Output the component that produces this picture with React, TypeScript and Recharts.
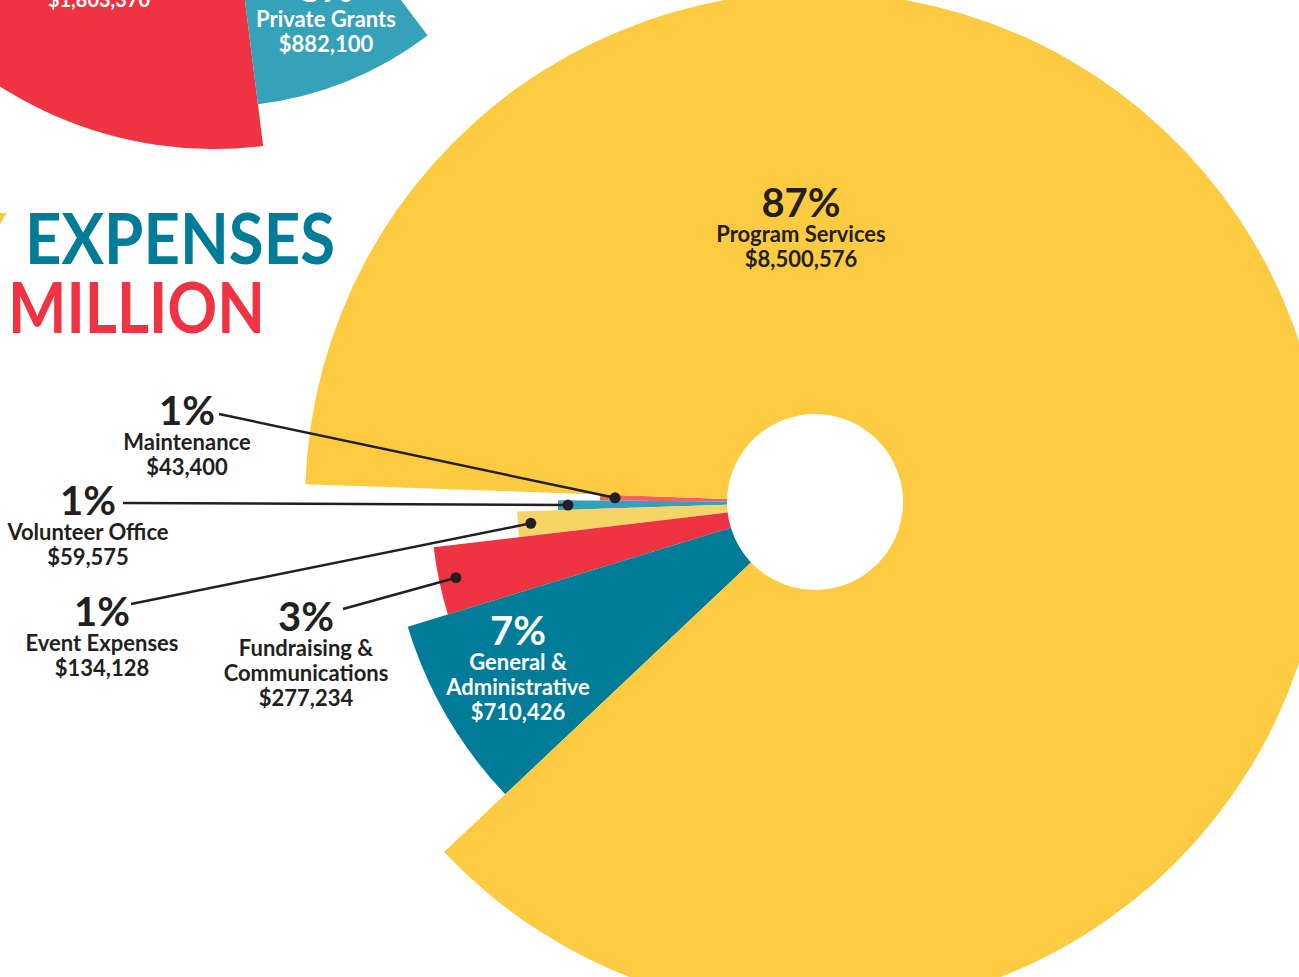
import { PieChart, Pie, Cell } from "recharts";

// expense breakdown, counter-clockwise from the left edge
const expenseNames = [
  "Maintenance",
  "Volunteer Office",
  "Event Expenses",
  "Fundraising & Communications",
  "General & Administrative",
  "Program Services",
];
const expenseValues = [43400, 59575, 134128, 277234, 710426, 8500576];
const expensePercents = ["1%", "1%", "1%", "3%", "7%", "87%"];
const expenseAmounts = ["$43,400", "$59,575", "$134,128", "$277,234", "$710,426", "$8,500,576"];

// partial income chart peeking in at the top left
const incomeNames = ["Government", "Private Grants"];
const incomeValues = [1803370, 882100];
const incomeAmounts = ["$1,803,370", "$882,100"];
const incomePercents = ["", "8%"];

const expenseData = expenseNames.map((name, i) => ({ name, value: expenseValues[i] }));
const incomeData = incomeNames.map((name, i) => ({ name, value: incomeValues[i] }));

const DARK = "#231F20";
const FONT = "Lato, 'Noto Sans', sans-serif";
const RAD = Math.PI / 180;
const NAME_SIZE = 22;

const expenseColors = ["#F0615F", "#33A1BA", "#F6D465", "#EE3342", "#007C98", "#FDCB42"];
const expenseRadii = [215, 257, 298, 384, 426, 510];
const incomeColors = ["#EE3342", "#35A2BA"];
const incomeRadii = [397, 355];

// where each annotation sits (x = text centre, y = baseline of the percentage)
const expenseNotes = [
  { x: 187, y: 425, lines: ["Maintenance"], fill: DARK, from: [219, 414], inset: 15 },
  { x: 88, y: 515, lines: ["Volunteer Office"], fill: DARK, from: [123, 503], inset: 10 },
  { x: 102, y: 626, lines: ["Event Expenses"], fill: DARK, from: [131, 604], inset: 13 },
  { x: 306, y: 631, lines: ["Fundraising &", "Communications"], fill: DARK, from: [343, 609], inset: 17 },
  { x: 518, y: 645, lines: ["General &", "Administrative"], fill: "#fff", from: null, inset: 0 },
  { x: 801, y: 217, lines: ["Program Services"], fill: DARK, from: null, inset: 0 },
];

const incomeNotes = [
  { x: 99, y: 7, lines: [] as string[] },
  { x: 326, y: 2, lines: ["Private Grants"] },
];

function expenseLabel(k: number) {
  return (props: any) => {
    if (props.index !== k) return <g />;
    const note = expenseNotes[k];
    const ang = -props.midAngle * RAD;
    const r = props.outerRadius - note.inset;
    const dx = props.cx + r * Math.cos(ang);
    const dy = props.cy + r * Math.sin(ang);
    const rows = [...note.lines, expenseAmounts[k]];
    return (
      <g>
        {note.from && (
          <>
            <line x1={note.from[0]} y1={note.from[1]} x2={dx} y2={dy} stroke={DARK} strokeWidth={2.5} />
            <circle cx={dx} cy={dy} r={5.5} fill={DARK} />
          </>
        )}
        <text x={note.x} y={note.y} textAnchor="middle" fill={note.fill} fontFamily={FONT} fontWeight={700} fontSize={40}>
          {expensePercents[k]}
        </text>
        {rows.map((t, i) => (
          <text
            key={i}
            x={note.x}
            y={note.y + 25 * (i + 1)}
            textAnchor="middle"
            fill={note.fill}
            fontFamily={FONT}
            fontWeight={700}
            fontSize={NAME_SIZE}
          >
            {t}
          </text>
        ))}
      </g>
    );
  };
}

function incomeLabel(k: number) {
  return (props: any) => {
    if (props.index !== k) return <g />;
    const note = incomeNotes[k];
    if (k === 0) {
      return (
        <text x={note.x} y={note.y} textAnchor="middle" fill="#fff" fontFamily={FONT} fontWeight={700} fontSize={20}>
          {incomeAmounts[k]}
        </text>
      );
    }
    return (
      <g>
        <text x={note.x} y={note.y} textAnchor="middle" fill="#fff" fontFamily={FONT} fontWeight={700} fontSize={40}>
          {incomePercents[k]}
        </text>
        <text x={note.x} y={27} textAnchor="middle" fill="#fff" fontFamily={FONT} fontWeight={700} fontSize={NAME_SIZE}>
          {note.lines[0]}
        </text>
        <text x={note.x} y={52} textAnchor="middle" fill="#fff" fontFamily={FONT} fontWeight={700} fontSize={NAME_SIZE}>
          {incomeAmounts[k]}
        </text>
      </g>
    );
  };
}

export default function App() {
  return (
    <div style={{ position: "fixed", left: 0, top: 0, width: 1299, height: 977, background: "#fff", overflow: "hidden" }}>
      <svg width={1299} height={977} style={{ position: "absolute", left: 0, top: 0 }}>
        <text x={6} y={264} textAnchor="end" fill="#FDCB42" fontFamily={FONT} fontWeight={700} fontSize={70}>
          Y
        </text>
        <text x={25} y={264} fill="#007C98" fontFamily={FONT} fontWeight={700} fontSize={70} textLength={310} lengthAdjust="spacingAndGlyphs">
          EXPENSES
        </text>
        <text x={8} y={333} fill="#EE3342" fontFamily={FONT} fontWeight={700} fontSize={70} textLength={257} lengthAdjust="spacingAndGlyphs">
          MILLION
        </text>
      </svg>
      <div style={{ position: "absolute", left: 0, top: 0 }}>
        <PieChart width={1299} height={977} margin={{ top: 0, right: 0, bottom: 0, left: 0 }}>
          {incomeRadii.map((r, k) => (
            <Pie
              key={`inc-${k}`}
              data={incomeData}
              dataKey="value"
              nameKey="name"
              cx={214}
              cy={-248}
              innerRadius={60}
              outerRadius={r}
              startAngle={216}
              endAngle={307}
              stroke="none"
              labelLine={false}
              label={incomeLabel(k)}
              isAnimationActive={false}
            >
              {incomeData.map((d, i) => (
                <Cell key={d.name} fill={i === k ? incomeColors[i] : "none"} />
              ))}
            </Pie>
          ))}
          {expenseRadii.map((r, k) => (
            <Pie
              key={`exp-${k}`}
              data={expenseData}
              dataKey="value"
              nameKey="name"
              cx={815}
              cy={502}
              innerRadius={88}
              outerRadius={r}
              startAngle={178}
              endAngle={538}
              stroke="none"
              labelLine={false}
              label={expenseLabel(k)}
              isAnimationActive={false}
            >
              {expenseData.map((d, i) => (
                <Cell key={d.name} fill={i === k ? expenseColors[i] : "none"} />
              ))}
            </Pie>
          ))}
        </PieChart>
      </div>
    </div>
  );
}
